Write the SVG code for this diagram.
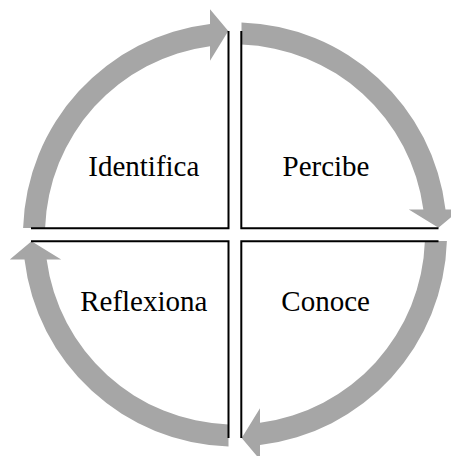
<svg xmlns="http://www.w3.org/2000/svg" xmlns:xlink="http://www.w3.org/1999/xlink" width="451" height="456" viewBox="0 0 451 456">
  <style>
    .arrow { fill: #A6A6A6; stroke: none; }
    .edge { fill: none; stroke: #000000; stroke-width: 2; stroke-linecap: butt; stroke-linejoin: miter; }
    .label { font-family: "Liberation Serif", "Times New Roman", serif; font-size: 29px; fill: #000000; text-anchor: middle; }
  </style>
  <defs>
    <path id="arc-arrow" d="M23.1,228 A212,212 0 0 1 210,24 L210,9.3 L228.3,31 L210,60.7 L210,46.15 A190,190 0 0 0 45.1,228 Z"/>
  </defs>
  <rect x="0" y="0" width="451" height="456" fill="#FFFFFF"/>
  <g id="connectors">
    <use xlink:href="#arc-arrow" href="#arc-arrow" class="arrow"/>
    <use xlink:href="#arc-arrow" href="#arc-arrow" class="arrow" transform="rotate(90 235 234.5)"/>
    <use xlink:href="#arc-arrow" href="#arc-arrow" class="arrow" transform="rotate(180 235 234.5)"/>
    <use xlink:href="#arc-arrow" href="#arc-arrow" class="arrow" transform="rotate(270 235 234.5)"/>
  </g>
  <g id="node-identifica">
    <polyline class="edge" points="228.5,31 228.5,228.3 31,228.3"/>
    <text class="label" x="143.8" y="176">Identifica</text>
  </g>
  <g id="node-percibe">
    <polyline class="edge" points="241.3,31 241.3,228.3 438.5,228.3"/>
    <text class="label" x="326" y="176">Percibe</text>
  </g>
  <g id="node-conoce">
    <polyline class="edge" points="241.3,438 241.3,241.2 438.5,241.2"/>
    <text class="label" x="325.6" y="311">Conoce</text>
  </g>
  <g id="node-reflexiona">
    <polyline class="edge" points="228.5,438 228.5,241.2 31,241.2"/>
    <text class="label" x="143.8" y="311">Reflexiona</text>
  </g>
</svg>
